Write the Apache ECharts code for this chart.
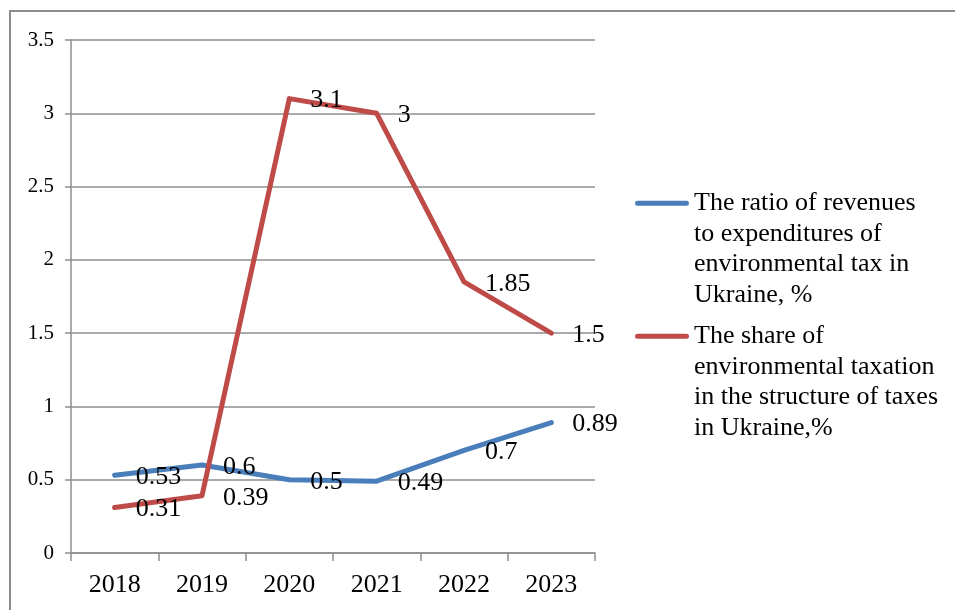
<!DOCTYPE html>
<html>
<head>
<meta charset="utf-8">
<script src="https://cdn.jsdelivr.net/npm/echarts@6/dist/echarts.min.js"></script>
<style>
html,body{margin:0;padding:0;background:#fff;}
#chart{width:955px;height:610px;}
</style>
</head>
<body>
<div id="chart"></div>
<script>
var categories = ['2018', '2019', '2020', '2021', '2022', '2023'];
var ratioValues = [0.53, 0.6, 0.5, 0.49, 0.7, 0.89];
var shareValues = [0.31, 0.39, 3.1, 3, 1.85, 1.5];
var seriesNames = [
  'The ratio of revenues to expenditures of environmental tax in Ukraine, %',
  'The share of environmental taxation in the structure of taxes in Ukraine,%'
];
var legendLines = [
  ['The ratio of revenues', 'to expenditures of', 'environmental tax in', 'Ukraine, %'],
  ['The share of', 'environmental taxation', 'in the structure of taxes', 'in Ukraine,%']
];
var yTicks = { min: 0, max: 3.5, interval: 0.5 };

var FONT = "'Liberation Serif', 'Times New Roman', serif";
var GRID_COLOR = '#8e8e8e';
var BLUE = '#4A7EBB';
var RED = '#BE4B48';

var chart = echarts.init(document.getElementById('chart'), null, { renderer: 'canvas' });

// legend icon: bar aligned with the first text line, box matches itemWidth x itemHeight
var LH = 30.5;
var IW = 54, IH = LH * 4;
var c = LH / 2, h = 2.5;
var iconPath = 'path://M0,0 L0.01,0 M' + IW + ',' + IH + ' L' + (IW - 0.01) + ',' + IH +
  ' M' + h + ',' + (c - h) + ' L' + (IW - h) + ',' + (c - h) +
  ' A' + h + ',' + h + ' 0 0 1 ' + (IW - h) + ',' + (c + h) +
  ' L' + h + ',' + (c + h) +
  ' A' + h + ',' + h + ' 0 0 1 ' + h + ',' + (c - h) + ' Z';

function makeLabel() {
  return {
    show: true,
    position: 'right',
    distance: 19,
    offset: [0, 2],
    fontFamily: FONT,
    fontSize: 26,
    color: '#000'
  };
}

var option = {
  backgroundColor: '#fff',
  animation: false,
  graphic: [{
    type: 'rect',
    z: -10,
    silent: true,
    shape: { x: 10, y: 11, width: 1200, height: 900 },
    style: { fill: 'none', stroke: '#8c8c8c', lineWidth: 2 }
  }],
  grid: { left: 71, right: 360, top: 40, bottom: 57, containLabel: false },
  legend: {
    orient: 'vertical',
    left: 635,
    top: 188,
    itemGap: 11,
    itemWidth: IW,
    itemHeight: IH,
    icon: iconPath,
    itemStyle: { borderWidth: 0 },
    selectedMode: false,
    padding: 0,
    data: seriesNames,
    formatter: function (name) {
      var i = seriesNames.indexOf(name);
      return legendLines[i].join('\n');
    },
    textStyle: {
      fontFamily: FONT,
      fontSize: 26,
      lineHeight: LH,
      color: '#000'
    }
  },
  xAxis: {
    type: 'category',
    data: categories,
    boundaryGap: true,
    axisLine: { show: true, lineStyle: { color: GRID_COLOR, width: 1.5 } },
    axisTick: { show: true, length: 8, lineStyle: { color: GRID_COLOR, width: 1.5 } },
    axisLabel: { fontFamily: FONT, fontSize: 26, color: '#000', margin: 19 },
    splitLine: { show: false }
  },
  yAxis: {
    type: 'value',
    min: yTicks.min,
    max: yTicks.max,
    interval: yTicks.interval,
    axisLine: { show: true, lineStyle: { color: GRID_COLOR, width: 1.5 } },
    axisTick: { show: true, length: 6, lineStyle: { color: GRID_COLOR, width: 1.5 } },
    axisLabel: {
      fontFamily: FONT, fontSize: 21, color: '#000', margin: 17,
      formatter: function (v) { return String(Math.round(v * 10) / 10); }
    },
    splitLine: { show: true, lineStyle: { color: GRID_COLOR, width: 1.5 } }
  },
  series: [{
    name: seriesNames[0],
    type: 'line',
    data: ratioValues,
    symbol: 'circle',
    symbolSize: 4,
    showSymbol: true,
    itemStyle: { color: BLUE },
    lineStyle: { color: BLUE, width: 5, cap: 'round', join: 'round' },
    label: makeLabel(),
    emphasis: { disabled: true },
    z: 3
  }, {
    name: seriesNames[1],
    type: 'line',
    data: shareValues,
    symbol: 'circle',
    symbolSize: 4,
    showSymbol: true,
    itemStyle: { color: RED },
    lineStyle: { color: RED, width: 5, cap: 'round', join: 'round' },
    label: makeLabel(),
    emphasis: { disabled: true },
    z: 4
  }]
};

chart.setOption(option);
</script>
</body>
</html>
